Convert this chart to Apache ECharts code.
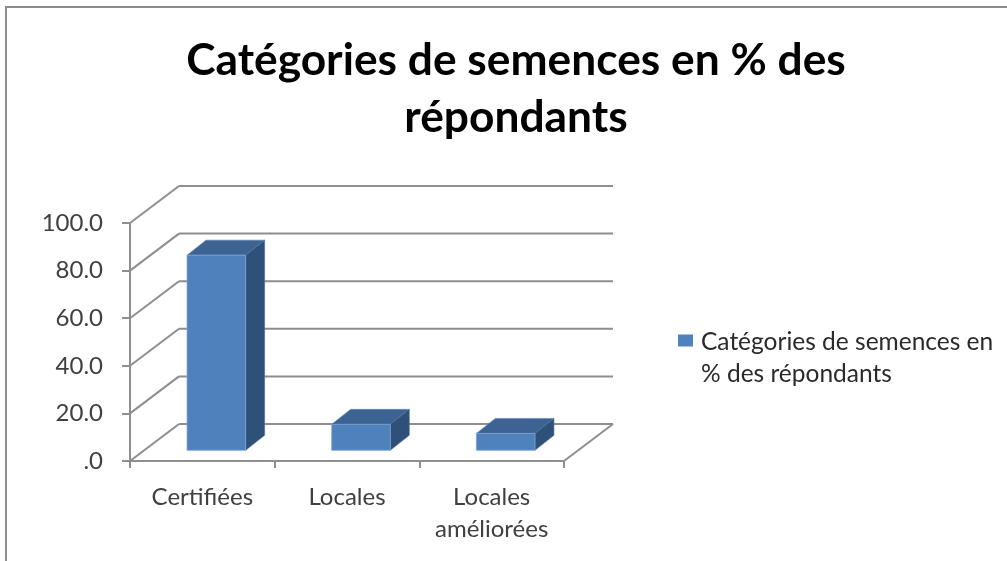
<!DOCTYPE html>
<html>
<head>
<meta charset="utf-8">
<style>html,body{margin:0;padding:0;background:#fff}#c{width:1007px;height:561px}</style>
<script src="https://cdn.jsdelivr.net/npm/echarts@6/dist/echarts.min.js"></script>
</head>
<body>
<div id="c"></div>
<script>
const titleLines = ['Catégories de semences en % des', 'répondants'];
const seriesName = 'Catégories de semences en\n% des répondants';
const categories = ['Certifiées', 'Locales', 'Locales\naméliorées'];
const values = [82, 10.9, 7.1];
const valueTicks = [0, 20, 40, 60, 80, 100];
const tickLabels = ['.0', '20.0', '40.0', '60.0', '80.0', '100.0'];

const FONT = 'Lato';
const GRID = '#8e8e8e';
const WALL = [49, -37];
const BAR_PLANE = [14, -10.7];
const BAR_DEPTH = [19, -15];
const BAR_RATIO = 0.405;

function wallItem(params, api) {
  const v = api.value(1);
  const cs = params.coordSys;
  const y = api.coord([0, v])[1];
  const x0 = cs.x, x1 = cs.x + cs.width;
  const st = { stroke: GRID, lineWidth: 2, fill: null };
  const kids = [
    { type: 'line', shape: { x1: x0, y1: y, x2: x0 + WALL[0], y2: y + WALL[1] }, style: st },
    { type: 'line', shape: { x1: x0 + WALL[0], y1: y + WALL[1], x2: x1 + WALL[0], y2: y + WALL[1] }, style: st }
  ];
  if (v === 0) {
    kids.push({ type: 'line', shape: { x1: x1, y1: y, x2: x1 + WALL[0], y2: y + WALL[1] }, style: st });
  }
  return { type: 'group', children: kids };
}

function barItem(params, api) {
  const idx = api.value(0);
  const top = api.coord([idx, api.value(1)]);
  const base = api.coord([idx, 0]);
  const w = api.size([1, 0])[0] * BAR_RATIO;
  const l = top[0] - w / 2 + BAR_PLANE[0], r = l + w;
  const t = top[1] + BAR_PLANE[1], b = base[1] + BAR_PLANE[1];
  const dx = BAR_DEPTH[0], dy = BAR_DEPTH[1];
  return {
    type: 'group',
    children: [
      { type: 'polygon', shape: { points: [[l, t], [r, t], [r + dx, t + dy], [l + dx, t + dy]] },
        style: { fill: '#3c6391', stroke: '#5b86b8', lineWidth: 0.6 } },
      { type: 'polygon', shape: { points: [[r, t], [r + dx, t + dy], [r + dx, b + dy], [r, b]] },
        style: { fill: '#2f5179', stroke: '#4a6f9c', lineWidth: 0.6 } },
      { type: 'rect', shape: { x: l, y: t, width: w, height: b - t },
        style: { fill: '#4f81bd', stroke: '#7ba3d2', lineWidth: 0.8 } }
    ]
  };
}

const chart = echarts.init(document.getElementById('c'), null, { renderer: 'canvas' });
chart.setOption({
  animation: false,
  backgroundColor: '#fff',
  title: {
    text: titleLines.join('\n'),
    left: 511, top: 27, textAlign: 'center',
    textStyle: { fontFamily: FONT, fontWeight: 700, fontSize: 44.3, lineHeight: 57, color: '#000' }
  },
  legend: {
    left: 678, top: 326, orient: 'vertical', padding: 0,
    data: [seriesName],
    itemWidth: 15, itemHeight: 47, itemGap: 0,
    icon: 'path://M0 0H15V12H0Z M0 47H0.01',
    textStyle: { fontFamily: FONT, fontSize: 24.5, lineHeight: 32, color: '#2a2a2a', padding: [0, 0, 0, 3] }
  },
  grid: { left: 130, top: 223, width: 434, height: 238 },
  xAxis: {
    type: 'category', data: categories,
    axisLine: { show: true, onZero: false, lineStyle: { color: GRID, width: 2 } },
    axisTick: { show: true, length: 7, lineStyle: { color: GRID, width: 2 } },
    axisLabel: { fontFamily: FONT, fontSize: 24, lineHeight: 32, color: '#404040', margin: 20, interval: 0 }
  },
  yAxis: {
    type: 'value', min: 0, max: 100, interval: 20,
    splitLine: { show: false },
    axisLine: { show: true, onZero: false, lineStyle: { color: GRID, width: 2 } },
    axisTick: { show: true, length: 8, lineStyle: { color: GRID, width: 2 } },
    axisLabel: {
      fontFamily: FONT, fontSize: 24, color: '#404040', margin: 27, padding: [4, 0, 0, 0],
      formatter: v => tickLabels[valueTicks.indexOf(v)]
    }
  },
  graphic: [{
    type: 'rect', silent: true, z: -1,
    shape: { x: 6, y: 7, width: 1200, height: 800 },
    style: { fill: null, stroke: '#8c8c8c', lineWidth: 2 }
  }],
  series: [
    { type: 'custom', name: 'walls', z: 1, silent: true, renderItem: wallItem,
      data: valueTicks.map(v => [0, v]), clip: false },
    { type: 'custom', name: seriesName, z: 3, silent: true, renderItem: barItem,
      itemStyle: { color: '#4f81bd' },
      data: values.map((v, i) => [i, v]), clip: false }
  ]
});
</script>
</body>
</html>
